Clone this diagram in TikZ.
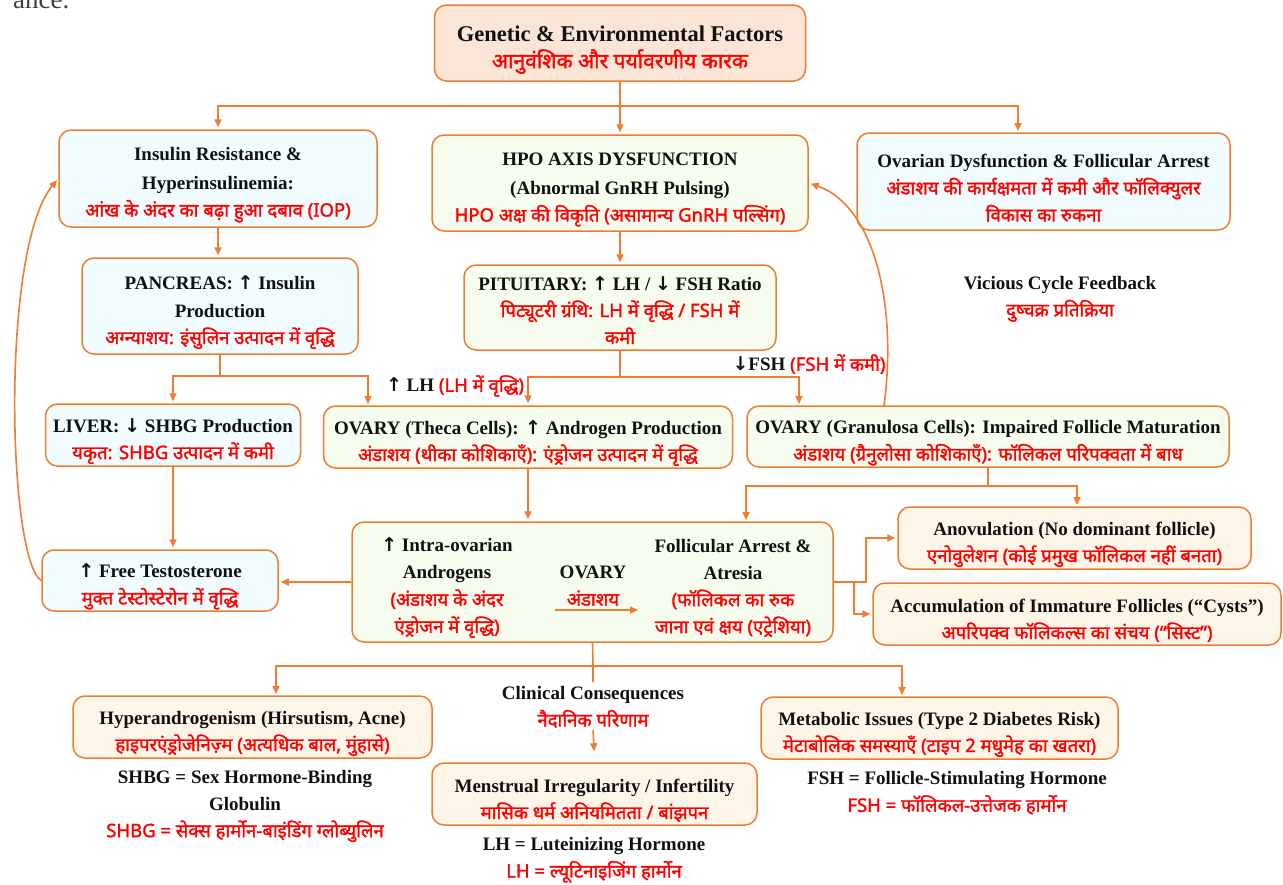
\documentclass[tikz,border=0pt]{standalone}
\usepackage{fontspec}
\setmainfont{Liberation Serif}
\newfontfamily\hinfont[Script=Devanagari,FakeBold=1.6]{Noto Sans}
\newfontfamily\symfont{DejaVu Sans}
\usetikzlibrary{arrows.meta}
\definecolor{ora}{HTML}{ED7D31}
\definecolor{hred}{HTML}{FF0000}
\definecolor{fcyan}{HTML}{F0FCFE}
\definecolor{fgreen}{HTML}{F6FDEF}
\definecolor{fpeach}{HTML}{FBE5D6}
\definecolor{fcream}{HTML}{FEF5E9}
\definecolor{txt}{HTML}{111111}
\newcommand{\EN}[1]{{\bfseries\color{txt}#1}}
\newcommand{\HI}[1]{{\hinfont\fontsize{18.5}{27}\selectfont\color{hred}#1}}
\newcommand{\HG}[1]{{\hinfont\fontsize{21}{29}\selectfont\color{hred}#1}}
\newcommand{\UP}{{\symfont ↑}}
\newcommand{\DN}{{\symfont ↓}}
\newcommand{\TS}{\rule{0pt}{26pt}}
\newcommand{\fs}{\fontsize{19}{27}\selectfont}
\tikzset{
 box/.style={draw=ora, line width=1.5pt, rounded corners=12pt, inner sep=0pt, align=center, font=\fs},
 lbl/.style={inner sep=0pt, align=center, font=\fs},
 ln/.style={draw=ora, line width=1.6pt},
 arr/.style={ln, -{Triangle[length=8pt,width=7pt]}, shorten >=2pt},
}
\begin{document}
\begin{tikzpicture}[x=1pt,y=-1pt]
\useasboundingbox (0,0) rectangle (1283,884);
\begin{scope}
\clip (0,0) rectangle (1283,884);
\node[anchor=base west, inner sep=0pt, font=\fontsize{27}{30}\selectfont, text=black!75] (frag) at (13,8) {ance.};
\end{scope}

% boxes
\node[box, fill=fpeach, minimum width=371pt, minimum height=76pt] (gen) at (620,43)
 {\fontsize{22.5}{29}\selectfont\rule{0pt}{29pt}\EN{Genetic \& Environmental Factors}\\\HG{आनुवंशिक और पर्यावरणीय कारक}};
\node[box, fill=fcyan, minimum width=318pt, minimum height=97pt] (ins) at (218,178.5)
 {\TS\EN{Insulin Resistance \&}\\[2pt]\EN{Hyperinsulinemia:}\\\HI{आंख के अंदर का बढ़ा हुआ दबाव (IOP)}};
\node[box, fill=fgreen, minimum width=376pt, minimum height=96pt] (hpo) at (620,183)
 {\TS\EN{HPO AXIS DYSFUNCTION}\\[2pt]\EN{(Abnormal GnRH Pulsing)}\\\HI{HPO अक्ष की विकृति (असामान्य GnRH पल्सिंग)}};
\node[box, fill=fcyan, minimum width=373pt, minimum height=97pt] (ova) at (1043.5,181.5)
 {\TS\EN{Ovarian Dysfunction \& Follicular Arrest}\\\HI{अंडाशय की कार्यक्षमता में कमी और फॉलिक्युलर}\\\HI{विकास का रुकना}};
\node[lbl] (vic) at (1060,299)
 {\EN{Vicious Cycle Feedback}\\\HI{दुष्चक्र प्रतिक्रिया}};
\node[box, fill=fcyan, minimum width=276pt, minimum height=96pt] (pan) at (220,306)
 {\TS\EN{PANCREAS: \UP\ Insulin}\\[1pt]\EN{Production}\\\HI{अग्न्याशय: इंसुलिन उत्पादन में वृद्धि}};
\node[box, fill=fgreen, minimum width=312pt, minimum height=85pt] (pit) at (620,307.5)
 {\rule{0pt}{19pt}\EN{PITUITARY: \UP\ LH / \DN\ FSH Ratio}\\\HI{पिट्यूटरी ग्रंथि: LH में वृद्धि / FSH में}\\\HI{कमी}};
\node[box, fill=fcyan, minimum width=255pt, minimum height=62pt] (liv) at (173,435)
 {\TS\EN{LIVER: \DN\ SHBG Production}\\\HI{यकृत: SHBG उत्पादन में कमी}};
\node[box, fill=fgreen, minimum width=409pt, minimum height=62pt] (the) at (528,437)
 {\TS\EN{OVARY (Theca Cells): \UP\ Androgen Production}\\\HI{अंडाशय (थीका कोशिकाएँ): एंड्रोजन उत्पादन में वृद्धि}};
\node[box, fill=fgreen, minimum width=482pt, minimum height=61pt] (gra) at (988,436.5)
 {\TS\EN{OVARY (Granulosa Cells): Impaired Follicle Maturation}\\\HI{अंडाशय (ग्रैनुलोसा कोशिकाएँ): फॉलिकल परिपक्वता में बाध}};
\node[lbl, anchor=center] (lhl) at (455,386) {\EN{\UP\ LH} \HI{(LH में वृद्धि)}};
\node[lbl, anchor=center] (fshl) at (809,364) {\EN{\DN FSH} \HI{(FSH में कमी)}};

\node[box, fill=fgreen, minimum width=481pt, minimum height=120pt] (cen) at (592.5,582) {};
\node[lbl] (cia) at (447,588) {\EN{\UP\ Intra-ovarian}\\\EN{Androgens}\\\HI{(अंडाशय के अंदर}\\\HI{एंड्रोजन में वृद्धि)}};
\node[lbl] (cov) at (593,586) {\EN{OVARY}\\\HI{अंडाशय}};
\node[lbl] (cfa) at (733,588) {\EN{Follicular Arrest \&}\\\EN{Atresia}\\\HI{(फॉलिकल का रुक}\\\HI{जाना एवं क्षय (एट्रेशिया)}};
\coordinate (oa1) at (555,610);
\coordinate (oa2) at (638,610);
\draw[arr, shorten >=0pt] (oa1) -- (oa2);

\node[box, fill=fcyan, minimum width=236pt, minimum height=61pt] (ft) at (160,580.5)
 {\TS\EN{\UP\ Free Testosterone}\\\HI{मुक्त टेस्टोस्टेरोन में वृद्धि}};
\node[box, fill=fcream, minimum width=353pt, minimum height=62pt] (ano) at (1074.5,538)
 {\TS\EN{Anovulation (No dominant follicle)}\\\HI{एनोवुलेशन (कोई प्रमुख फॉलिकल नहीं बनता)}};
\node[box, fill=fcream, minimum width=408pt, minimum height=62pt] (acc) at (1077,614)
 {\TS\EN{Accumulation of Immature Follicles (“Cysts”)}\\\HI{अपरिपक्व फॉलिकल्स का संचय (“सिस्ट”)}};
\node[box, fill=fcream, minimum width=359pt, minimum height=62pt] (hyp) at (252.5,727)
 {\TS\EN{Hyperandrogenism (Hirsutism, Acne)}\\\HI{हाइपरएंड्रोजेनिज़्म (अत्यधिक बाल, मुंहासे)}};
\node[lbl] (clin) at (593,707) {\EN{Clinical Consequences}\\\HI{नैदानिक परिणाम}};
\node[box, fill=fcream, minimum width=325pt, minimum height=62pt] (men) at (594.5,794)
 {\TS\EN{Menstrual Irregularity / Infertility}\\\HI{मासिक धर्म अनियमितता / बांझपन}};
\node[box, fill=fcream, minimum width=357pt, minimum height=62pt] (met) at (939.5,728)
 {\TS\EN{Metabolic Issues (Type 2 Diabetes Risk)}\\\HI{मेटाबोलिक समस्याएँ (टाइप 2 मधुमेह का खतरा)}};

\node[lbl] (shbg) at (245,806) {\EN{SHBG = Sex Hormone-Binding}\\\EN{Globulin}\\\HI{SHBG = सेक्स हार्मोन-बाइंडिंग ग्लोब्युलिन}};
\node[lbl] (lhd) at (594,860) {\EN{LH = Luteinizing Hormone}\\\HI{LH = ल्यूटिनाइजिंग हार्मोन}};
\node[lbl] (fshd) at (957,793) {\EN{FSH = Follicle-Stimulating Hormone}\\\HI{FSH = फॉलिकल-उत्तेजक हार्मोन}};

% connectors
\coordinate (s1) at (620,106);
\coordinate (ovaIn) at (1018,133);
\draw[arr] (gen.south) -- (gen.south |- hpo.north);
\draw[arr] (s1) -| (ins.north);
\draw[arr] (s1) -| (ovaIn);

\draw[arr] (ins.south) -- (ins.south |- pan.north);
\coordinate (s2) at (220,376);
\coordinate (theIn) at (368,406);
\draw[ln] (pan.south) -- (s2);
\draw[arr] (s2) -| (liv.north);
\draw[arr] (s2) -| (theIn);

\draw[arr] (hpo.south) -- (pit.north);
\coordinate (s3) at (620,377);
\coordinate (graIn) at (799,406);
\draw[ln] (pit.south) -- (s3);
\draw[arr] (s3) -| (the.north);
\draw[arr] (s3) -| (graIn);

\draw[arr] (the.south) -- (the.south |- cen.north);
\coordinate (s4) at (988,486);
\coordinate (cenIn) at (746,522);
\coordinate (anoIn) at (1077,507);
\draw[ln] (gra.south) -- (s4);
\draw[arr] (s4) -| (cenIn);
\draw[arr] (s4) -| (anoIn);

\draw[arr] (liv.south) -- (liv.south |- ft.north);
\draw[arr] (cen.west) -- (cen.west -| ft.east);
\draw[arr] (cen.east) -- ++(32,0) |- (ano.west);
\draw[arr] (cen.east) -- ++(20,0) |- (acc.west);

\coordinate (s6) at (593,666);
\coordinate (hypIn) at (276,696);
\coordinate (metIn) at (902,697);
\draw[ln] (cen.south) -- (s6) -- (593,682);
\draw[arr] (s6) -| (hypIn);
\draw[arr] (s6) -| (metIn);
\draw[arr, shorten <=2pt, shorten >=11pt] (clin.south) -- (men.north);

\coordinate (graOut) at (884,406);
\draw[arr] (ft.west) .. controls (8,560) and (0,250) .. (ins.west);
\draw[arr] (graOut) .. controls (898,300) and (872,205) .. (hpo.east);
\end{tikzpicture}
\end{document}
